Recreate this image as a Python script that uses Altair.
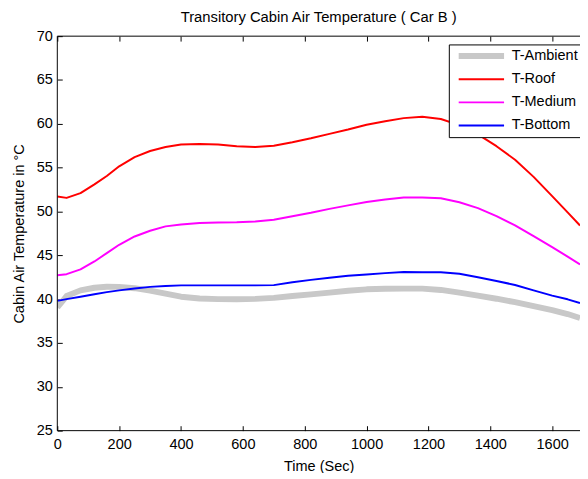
import altair as alt
import pandas as pd

# ---- data ----
series_names = ["T-Ambient", "T-Roof", "T-Medium", "T-Bottom"]
series_colors = ["#c8c8c8", "#ff0000", "#ff00ff", "#0000ff"]
series_widths = [6, 2, 2, 2]

time_s = [0, 30, 75, 120, 160, 200, 250, 300, 350, 400, 460, 520, 580, 640, 700,
          760, 820, 880, 940, 1000, 1060, 1120, 1180, 1240, 1300, 1360, 1420,
          1480, 1540, 1600, 1650, 1690]

t_ambient = [39.05, 40.35, 41.0, 41.3, 41.42, 41.4, 41.25, 40.98, 40.62, 40.28,
             40.07, 40.0, 39.98, 40.03, 40.15, 40.36, 40.55, 40.75, 40.95, 41.12,
             41.18, 41.2, 41.2, 41.05, 40.75, 40.4, 40.05, 39.65, 39.2, 38.75,
             38.3, 37.85]
t_roof = [51.7, 51.55, 52.1, 53.1, 54.05, 55.15, 56.2, 56.9, 57.35, 57.65, 57.7,
          57.65, 57.45, 57.36, 57.5, 57.9, 58.35, 58.85, 59.35, 59.9, 60.3, 60.65,
          60.8, 60.55, 59.85, 58.8, 57.45, 55.9, 53.95, 51.75, 49.9, 48.4]
t_medium = [42.73, 42.85, 43.4, 44.3, 45.25, 46.2, 47.15, 47.8, 48.3, 48.52, 48.69,
            48.74, 48.77, 48.85, 49.05, 49.45, 49.85, 50.3, 50.7, 51.08, 51.36,
            51.6, 51.6, 51.5, 51.05, 50.38, 49.48, 48.42, 47.18, 45.93, 44.85, 43.95]
t_bottom = [39.8, 40.0, 40.28, 40.56, 40.8, 41.0, 41.22, 41.4, 41.5, 41.57, 41.57,
            41.57, 41.57, 41.57, 41.6, 41.93, 42.2, 42.45, 42.67, 42.82, 42.97,
            43.1, 43.08, 43.07, 42.9, 42.5, 42.07, 41.62, 41.0, 40.4, 39.98, 39.55]

x_domain = [0, 1690]
y_domain = [25, 70]
x_ticks = [0, 200, 400, 600, 800, 1000, 1200, 1400, 1600]
y_ticks = [25, 30, 35, 40, 45, 50, 55, 60, 65, 70]

title_text = "Transitory Cabin Air Temperature ( Car B )"
x_title = "Time (Sec)"
y_title = "Cabin Air Temperature in °C"

rows = []
for name, vals in zip(series_names, [t_ambient, t_roof, t_medium, t_bottom]):
    for t, v in zip(time_s, vals):
        rows.append({"time": t, "temp": v, "series": name})
df = pd.DataFrame(rows)

border_h = pd.DataFrame({"temp": y_domain})
border_v = pd.DataFrame({"time": [x_domain[0]]})

FONT = "Liberation Sans"
FS = 14.7

x_scale = alt.Scale(domain=x_domain, nice=False, zero=False)
y_scale = alt.Scale(domain=y_domain, nice=False, zero=False)

x_axis = alt.Axis(orient="bottom", values=x_ticks, offset=-5, tickSize=5, format="d",
                  domain=False, grid=False, labelPadding=6.5, title=x_title,
                  titlePadding=7, labelFlush=False)
x_axis_top = alt.Axis(orient="top", values=x_ticks, offset=-5, tickSize=5,
                      domain=False, grid=False, labels=False, title=None)
y_axis = alt.Axis(orient="left", values=y_ticks, offset=-5, tickSize=5,
                  domain=False, grid=False, labelPadding=5, title=y_title,
                  titlePadding=10, labelFlush=False)

legend = alt.Legend(
    title=None, orient="none", legendX=397, legendY=8.4,
    symbolType="M-6,0H6", symbolSize=58.78, symbolOffset=21.2,
    labelOffset=23.35, rowPadding=7.47, padding=4.45,
    strokeColor="black", fillColor="white", cornerRadius=0,
    labelFont=FONT, labelFontSize=FS, labelColor="black", labelLimit=300,
    labelExpr="datum.label == 'T-Ambient' ? datum.label + '\u00a0' : datum.label",
)

lines = alt.Chart(df).mark_line(clip=True, strokeJoin="round").encode(
    x=alt.X("time:Q", scale=x_scale, axis=x_axis),
    y=alt.Y("temp:Q", scale=y_scale, axis=y_axis),
    color=alt.Color("series:N", scale=alt.Scale(domain=series_names, range=series_colors),
                    legend=legend, sort=series_names),
    strokeWidth=alt.StrokeWidth("series:N",
                                scale=alt.Scale(type="ordinal", domain=series_names,
                                                range=series_widths),
                                legend=legend, sort=series_names),
)

h_rules = alt.Chart(border_h).mark_rule(color="black", strokeWidth=1).encode(
    y=alt.Y("temp:Q", scale=y_scale, axis=y_axis),
)

v_rule = alt.Chart(border_v).mark_rule(color="black", strokeWidth=1).encode(
    x=alt.X("time:Q", scale=x_scale, axis=x_axis_top),
)

chart = alt.layer(lines, h_rules, v_rule).resolve_axis(x="independent").properties(
    width=530, height=400,
    title=alt.Title(title_text, font=FONT, fontSize=15, fontWeight="normal",
                    color="black", anchor="middle", offset=3.5),
    autosize=alt.AutoSizeParams(type="none"),
    padding={"left": 50, "top": 25.3, "right": 0, "bottom": 40},
).configure_view(stroke=None).configure_line(strokeJoin="round").configure_axis(
    labelFont=FONT, labelFontSize=FS, labelColor="black",
    titleFont=FONT, titleFontSize=FS, titleColor="black", titleFontWeight="normal",
    tickColor="black", tickWidth=1,
)

chart.save("out.html", embed_options={"renderer": "svg", "actions": False})
